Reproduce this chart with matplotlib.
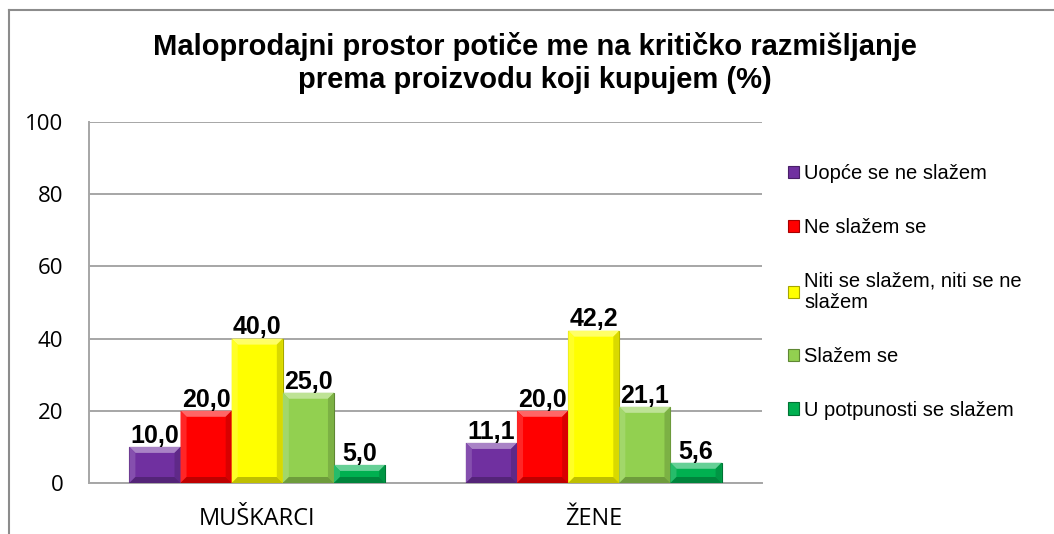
import numpy as np
import matplotlib
matplotlib.use("Agg")
import matplotlib.pyplot as plt
from matplotlib.patches import Polygon
from matplotlib.lines import Line2D
from matplotlib.colors import to_rgb

# Survey data (%)
groups = ["MUŠKARCI", "ŽENE"]
answers = [
    "Uopće se ne slažem",
    "Ne slažem se",
    "Niti se slažem, niti se ne\nslažem",
    "Slažem se",
    "U potpunosti se slažem",
]
muskarci = [10.0, 20.0, 40.0, 25.0, 5.0]
zene = [11.1, 20.0, 42.2, 21.1, 5.6]
colors = ["#7030A0", "#FF0000", "#FFFF00", "#92D050", "#00B050"]
title = "Maloprodajni prostor potiče me na kritičko razmišljanje\nprema proizvodu koji kupujem (%)"
yticks = [0, 20, 40, 60, 80, 100]

values = np.array([muskarci, zene]).T  # shape: answers x groups

W, H = 1054, 534
fig = plt.figure(figsize=(W / 100, H / 100), dpi=100)
ax = fig.add_axes([89 / W, 1 - 483 / H, (762 - 89) / W, (483 - 122) / H])

n = len(answers)
bw = 0.152
x = np.arange(len(groups))


def shade(c, f):
    r, g, b = to_rgb(c)
    if f >= 0:
        return (r + (1 - r) * f, g + (1 - g) * f, b + (1 - b) * f)
    return (r * (1 + f), g * (1 + f), b * (1 + f))


# pixel-to-data scale for bevel edges
px_y = 100 / (483 - 122)
px_x = 1.0 / 336

for i in range(n):
    pos = x + (i - (n - 1) / 2) * bw
    bars = ax.bar(pos, values[i], width=bw, color=colors[i],
                  edgecolor=shade(colors[i], -0.35), linewidth=0.8,
                  label=answers[i], zorder=3)
    for rect, v in zip(bars, values[i]):
        x0, y0 = rect.get_x(), rect.get_y()
        w, h = rect.get_width(), rect.get_height()
        dx = min(6 * px_x, w / 4)
        dy = min(6 * px_y, h / 3)
        x1, y1 = x0 + w, y0 + h
        c = colors[i]
        # bevel: lit top and left, shaded right and bottom
        faces = [
            ([(x0, y1), (x1, y1), (x1 - dx, y1 - dy), (x0 + dx, y1 - dy)], shade(c, 0.4)),
            ([(x0, y0), (x0, y1), (x0 + dx, y1 - dy), (x0 + dx, y0 + dy)], shade(c, 0.15)),
            ([(x1, y0), (x1, y1), (x1 - dx, y1 - dy), (x1 - dx, y0 + dy)], shade(c, -0.15)),
            ([(x0, y0), (x1, y0), (x1 - dx, y0 + dy), (x0 + dx, y0 + dy)], shade(c, -0.25)),
        ]
        for pts, fc in faces:
            ax.add_patch(Polygon(pts, closed=True, facecolor=fc, edgecolor="none",
                                 zorder=3.5))
        ax.annotate(f"{v:.1f}".replace(".", ","), (rect.get_x() + w / 2, y1),
                    xytext=(0, 3), textcoords="offset points",
                    ha="center", va="baseline", fontsize=18, fontweight="bold",
                    family="Liberation Sans", zorder=5)

ax.set_xlim(-0.5, len(groups) - 0.5)
ax.set_ylim(0, 100)
ax.set_yticks(yticks)
ax.set_xticks(x)
ax.set_xticklabels(groups, family="Open Sans", fontsize=17)
ax.tick_params(axis="y", length=0, pad=18.5, labelsize=16)
ax.tick_params(axis="x", length=0, pad=17.5)
for lab in ax.get_yticklabels():
    lab.set_family("Open Sans")
ax.yaxis.grid(True, color="#A6A6A6", linewidth=1.4, zorder=0)
ax.set_axisbelow(True)
for s in ["top", "right"]:
    ax.spines[s].set_visible(False)
ax.spines["left"].set_color("#A6A6A6")
ax.spines["bottom"].set_color("#A6A6A6")
ax.spines["left"].set_linewidth(1.4)
ax.spines["bottom"].set_linewidth(1.4)

fig.text(535 / W, 1 - 63 / H, title, ha="center", va="center",
         fontsize=21, fontweight="bold", family="Liberation Sans",
         linespacing=1.25)

handles, labels = ax.get_legend_handles_labels()
leg = fig.legend(handles, labels, loc="upper left",
                 bbox_to_anchor=(774 / W, 1 - 150 / H),
                 frameon=False, prop={"family": "Liberation Sans", "size": 14.5},
                 handlelength=0.55, handleheight=0.55, handletextpad=0.25,
                 labelspacing=1.72, borderpad=0.2)

# chart border (top and left edges)
fig.add_artist(Line2D([9 / W, 9 / W], [0, 1 - 10 / H], color="#8C8C8C",
                      linewidth=1.5, transform=fig.transFigure))
fig.add_artist(Line2D([9 / W, 1.0], [1 - 10 / H, 1 - 10 / H], color="#8C8C8C",
                      linewidth=1.5, transform=fig.transFigure))

fig.savefig("out.png", dpi=100, facecolor="white")
